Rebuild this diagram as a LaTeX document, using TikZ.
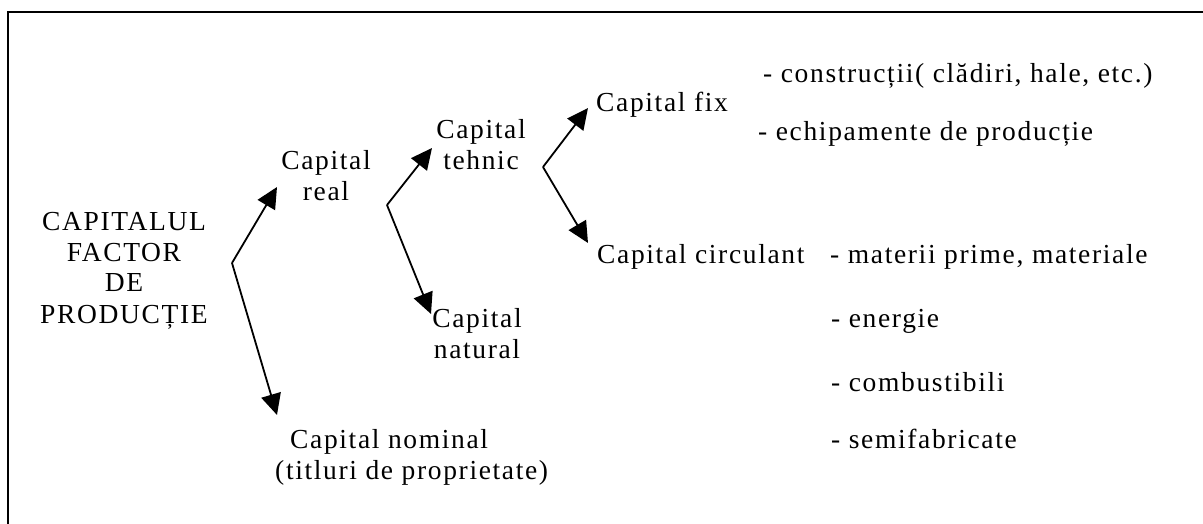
\documentclass[tikz,border=0pt]{standalone}
\usepackage{fontspec}
\setmainfont{Liberation Serif}[LetterSpace=6]
\usetikzlibrary{arrows.meta}
\newcommand\twol[2]{\begin{tabular}[t]{@{}c@{}}#1\\#2\end{tabular}}
\begin{document}
\setlength\tabcolsep{0pt}
\begin{tikzpicture}[x=1pt,y=-1pt,
  lbl/.style={inner sep=0pt, font=\fontsize{27.5pt}{31pt}\selectfont},
  arr/.style={line width=1.8pt, -{Triangle[length=21pt,width=20pt]}},
  frame/.style={line width=2pt}]
\useasboundingbox (0,0) rectangle (1203,524);
\fill[white] (0,0) rectangle (1203,524);
\draw[frame] (7.7,524) -- (7.7,11.8) -- (1203,11.8);

\node[lbl,anchor=base] (cap) at (124,230) {\begin{tabular}[t]{@{}c@{}}CAPITALUL\\FACTOR\\DE\\PRODUCȚIE\end{tabular}};
\node[lbl,anchor=base] (real) at (326,170) {\twol{Capital}{real}};
\node[lbl,anchor=base] (tehnic) at (481,139) {\twol{Capital}{tehnic}};
\node[lbl,anchor=base] (natural) at (477,327) {\twol{Capital}{natural}};
\node[lbl,anchor=base west] (fix) at (596,112) {Capital fix};
\node[lbl,anchor=base west] (circ) at (597,263) {Capital circulant};
\node[lbl,anchor=base west] (nominal) at (275,448) {\begin{tabular}[t]{@{}l@{}}\hspace*{15pt}Capital nominal\\(titluri de proprietate)\end{tabular}};
\node[lbl,anchor=base west] (i1) at (763,83) {- construcții( clădiri, hale, etc.)};
\node[lbl,anchor=base west] (i2) at (758,141) {- echipamente de producție};
\node[lbl,anchor=base west] (i3) at (830,263) {- materii prime, materiale};
\node[lbl,anchor=base west] (i4) at (831,327) {- energie};
\node[lbl,anchor=base west] (i5) at (831,391) {- combustibili};
\node[lbl,anchor=base west] (i6) at (831,448) {- semifabricate};

\coordinate (v1) at (232,263);
\coordinate (t1) at (277,187);
\coordinate (t2) at (277,415);
\coordinate (v2) at (387,205);
\coordinate (t3) at (432,148);
\coordinate (t4) at (431,314);
\coordinate (v3) at (543,167);
\coordinate (t5) at (588,108);
\coordinate (t6) at (588,243);

\draw[arr] (v1) -- (t1);
\draw[arr] (v1) -- (t2);
\draw[arr] (v2) -- (t3);
\draw[arr] (v2) -- (t4);
\draw[arr] (v3) -- (t5);
\draw[arr] (v3) -- (t6);
\end{tikzpicture}
\end{document}
